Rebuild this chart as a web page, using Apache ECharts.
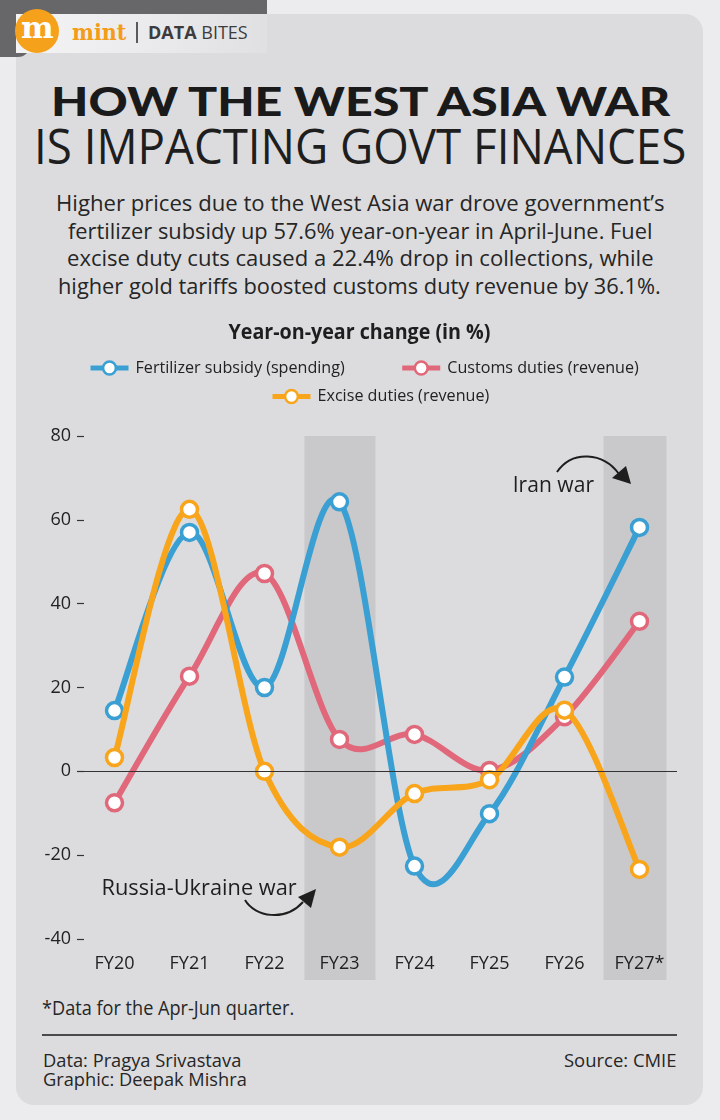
<!DOCTYPE html>
<html>
<head>
<meta charset="utf-8">
<script src="https://cdn.jsdelivr.net/npm/echarts@6/dist/echarts.min.js"></script>
<style>
html,body{margin:0;padding:0;}
body{width:720px;height:1120px;background:#ececee;position:relative;overflow:hidden;font-family:"Open Sans",sans-serif;color:#1e1e1e;}
.box{position:absolute;}
.t{position:absolute;white-space:nowrap;line-height:1;transform-origin:0 0;display:inline-block;}
#card{left:16px;top:14px;width:687px;height:1091px;background:#dcdcde;border-radius:18px;}
#tabTop{left:0;top:0;width:267px;height:14px;background:#67676a;}
#tabLeft{left:0;top:0;width:30px;height:57px;background:#67676a;border-bottom-right-radius:12px;}
#bar{left:16px;top:14px;width:251px;height:39px;background:linear-gradient(to right,#f4f4f5,#e9e9eb 60%,#e0e0e2);}
#logo{left:15px;top:9px;width:44px;height:44px;border-radius:50%;background:#f6a11b;}
#sep{left:136px;top:22px;width:1.5px;height:21px;background:#5a5a5c;}
#rule{left:42px;top:1034px;width:635px;height:1.5px;background:#4a4a4c;}
#chart{position:absolute;left:0;top:0;width:720px;height:1120px;}
</style>
</head>
<body>
<div id="card" class="box"></div>
<div id="tabTop" class="box"></div>
<div id="tabLeft" class="box"></div>
<div id="bar" class="box"></div>
<div id="logo" class="box"></div>
<div class="t" data-w="33" style="left:20.5px;top:13.8px;font-family:'DejaVu Serif',serif;font-weight:bold;font-size:29px;color:#fff;">m</div>
<div class="t" data-w="54" style="left:72px;top:19.5px;font-family:'DejaVu Serif',serif;font-weight:bold;font-size:23px;color:#f39c1a;">mint</div>
<div id="sep" class="box"></div>
<div class="t" style="left:148px;top:23px;font-size:18px;color:#3c3c3e;"><b>DATA</b> BITES</div>

<div class="t" data-w="619.5" style="left:50.5px;top:81.2px;font-family:Lato,'Open Sans',sans-serif;font-weight:900;font-size:40px;color:#1a1a1a;">HOW THE WEST ASIA WAR</div>
<div class="t" data-w="652.6" style="left:34.4px;top:120.5px;font-weight:400;font-size:49px;color:#1e1e1e;">IS IMPACTING GOVT FINANCES</div>

<div class="t" data-w="608.4" style="left:56px;top:191.2px;font-size:22px;color:#262626;">Higher prices due to the West Asia war drove government’s</div>
<div class="t" data-w="584.5" style="left:67.5px;top:218.7px;font-size:22px;color:#262626;">fertilizer subsidy up 57.6% year-on-year in April-June. Fuel</div>
<div class="t" data-w="586.4" style="left:66.6px;top:246.2px;font-size:22px;color:#262626;">excise duty cuts caused a 22.4% drop in collections, while</div>
<div class="t" data-w="602.7" style="left:58.3px;top:273.7px;font-size:22px;color:#262626;">higher gold tariffs boosted customs duty revenue by 36.1%.</div>

<div class="t" data-w="252" style="left:42.2px;top:998.2px;font-size:20px;color:#262626;">*Data for the Apr-Jun quarter.</div>
<div id="rule" class="box"></div>
<div class="t" data-w="198" style="left:43px;top:1050.7px;font-size:18px;color:#262626;">Data: Pragya Srivastava</div>
<div class="t" data-w="203.6" style="left:43px;top:1070px;font-size:18px;color:#262626;">Graphic: Deepak Mishra</div>
<div class="t" data-w="112.7" style="left:563.8px;top:1050.7px;font-size:18px;color:#262626;">Source: CMIE</div>

<div id="chart"></div>

<script>
// ---- data ----
const categories = ['FY20', 'FY21', 'FY22', 'FY23', 'FY24', 'FY25', 'FY26', 'FY27*'];
const fertilizerSubsidy = [14.5, 57.0, 20.0, 64.3, -22.6, -10.1, 22.5, 58.2];
const customsDuties = [-7.5, 22.7, 47.2, 7.6, 8.8, 0.2, 13.0, 35.8];
const exciseDuties = [3.3, 62.5, 0.0, -18.1, -5.3, -2.0, 14.6, -23.4];
const seriesNames = ['Fertilizer subsidy (spending)', 'Customs duties (revenue)', 'Excise duties (revenue)'];
const yMin = -40, yMax = 80, yStep = 20;
const shadedCategories = ['FY23', 'FY27*'];
const chartTitle = 'Year-on-year change (in %)';
const annotations = ['Iran war', 'Russia-Ukraine war'];

// ---- fit html text widths ----
document.querySelectorAll('[data-w]').forEach(el => {
  const w = el.offsetWidth;
  if (w > 0) el.style.transform = 'scaleX(' + (parseFloat(el.dataset.w) / w) + ')';
});

const FONT = '"Open Sans", sans-serif';
const mctx = document.createElement('canvas').getContext('2d');
function measure(text, font) { mctx.font = font; return mctx.measureText(text).width; }
function fitText(text, left, capCenter, targetW, fs, weight) {
  const font = weight + ' ' + fs + 'px "Open Sans"';
  const s = targetW / measure(text, font);
  return {
    type: 'text', x: left, y: capCenter + 0.07 * fs, scaleX: s, z: 100, silent: true,
    style: { text: text, font: font, fill: '#1e1e1e', align: 'left', verticalAlign: 'middle', textAlign: 'left', textVerticalAlign: 'middle' }
  };
}

const COLORS = { fert: '#3a9fd2', customs: '#e0687a', excise: '#f8a51b' };
const legendFs = 16 * 209.5 / measure(seriesNames[0], '16px "Open Sans"');

// Smooth curve (Catmull-Rom) through the data points, placed with the axes' own scales
function curveSeries(id, values, color, z) {
  return {
    id: id, type: 'custom', z: z, silent: true,
    data: values.map((v, i) => [i, v]),
    encode: { x: 0, y: 1 },
    renderItem: function (params, api) {
      const i = params.dataIndex, n = values.length;
      if (i >= n - 1) return null;
      const P = k => { const kk = Math.max(0, Math.min(n - 1, k)); return api.coord([kk, values[kk]]); };
      const p0 = P(i - 1), p1 = P(i), p2 = P(i + 1), p3 = P(i + 2);
      return {
        type: 'bezierCurve',
        shape: {
          x1: p1[0], y1: p1[1],
          cpx1: p1[0] + (p2[0] - p0[0]) / 6, cpy1: p1[1] + (p2[1] - p0[1]) / 6,
          cpx2: p2[0] - (p3[0] - p1[0]) / 6, cpy2: p2[1] - (p3[1] - p1[1]) / 6,
          x2: p2[0], y2: p2[1]
        },
        style: { stroke: color, lineWidth: 6, fill: null, lineCap: 'round' }
      };
    }
  };
}
function pointSeries(name, values, color, z) {
  return {
    name: name, type: 'line', data: values, z: z,
    symbol: 'circle', symbolSize: 16, showAllSymbol: true,
    lineStyle: { width: 6, color: color, opacity: 0 },
    itemStyle: { color: '#ffffff', borderColor: color, borderWidth: 3.5 },
    emphasis: { disabled: true }
  };
}

const chart = echarts.init(document.getElementById('chart'), null, { renderer: 'canvas' });
const legendCommon = {
  orient: 'horizontal', itemWidth: 38, itemHeight: 16, itemGap: 55, selectedMode: false,
  textStyle: { fontSize: legendFs, color: '#222', fontFamily: FONT, padding: [0, 0, 0, 2] },
  itemStyle: { borderWidth: 2.5 }, lineStyle: { width: 5, opacity: 1 }
};
chart.setOption({
  animation: false,
  backgroundColor: 'transparent',
  textStyle: { fontFamily: FONT },
  grid: { left: 77, right: 43, top: 436, bottom: 181, containLabel: false, outerBoundsMode: 'none' },
  legend: [
    Object.assign({ data: [seriesNames[0], seriesNames[1]], left: 83, top: 355 }, legendCommon),
    Object.assign({ data: [seriesNames[2]], left: 265, top: 383.5 }, legendCommon)
  ],
  xAxis: [{
    type: 'category', data: categories, boundaryGap: true,
    axisLine: { show: false }, axisTick: { show: false }, splitLine: { show: false },
    axisLabel: { fontSize: 18, color: '#222', margin: 16, fontFamily: FONT }
  }],
  yAxis: [{
    type: 'value', min: yMin, max: yMax, interval: yStep,
    axisLine: { show: false }, splitLine: { show: false },
    axisTick: { show: true, inside: true, length: 7, lineStyle: { color: '#333', width: 1.2 } },
    axisLabel: { fontSize: 18, color: '#222', margin: 6, fontFamily: FONT }
  }],
  series: [
    {
      name: 'zero', type: 'line', data: categories.map(() => null), z: 1, silent: true, symbol: 'none',
      markLine: { silent: true, symbol: 'none', label: { show: false }, animation: false,
        lineStyle: { color: '#333', width: 1.2, type: 'solid' }, data: [{ yAxis: 0 }] }
    },
    curveSeries('curve-customs', customsDuties, COLORS.customs, 2),
    pointSeries(seriesNames[1], customsDuties, COLORS.customs, 2.5),
    curveSeries('curve-fert', fertilizerSubsidy, COLORS.fert, 3),
    pointSeries(seriesNames[0], fertilizerSubsidy, COLORS.fert, 3.5),
    curveSeries('curve-excise', exciseDuties, COLORS.excise, 4),
    pointSeries(seriesNames[2], exciseDuties, COLORS.excise, 4.5)
  ]
});

// ---- shaded periods through the axis scales ----
const px = c => chart.convertToPixel({ xAxisIndex: 0 }, c);
const step = px(categories[1]) - px(categories[0]);
const yTop = chart.convertToPixel({ yAxisIndex: 0 }, yMax);
const yBottom = chart.convertToPixel({ yAxisIndex: 0 }, yMin) + 41;
const bandSpan = { 'FY23': [-0.467, 0.48], 'FY27*': [-0.48, 0.36] };
const bands = shadedCategories.map(c => {
  const cx = px(c), s = bandSpan[c];
  return { type: 'rect', z: 0, silent: true,
    shape: { x: cx + s[0] * step, y: yTop, width: (s[1] - s[0]) * step, height: yBottom - yTop },
    style: { fill: '#c9c9cb' } };
});

const arrowStyle = { stroke: '#1e1e1e', lineWidth: 2, fill: null };
chart.setOption({
  graphic: bands.concat([
    fitText(chartTitle, 228.5, 331.5, 262, 22, 'bold'),
    fitText(annotations[0], 512.7, 483.8, 81.3, 22, 'normal'),
    fitText(annotations[1], 101.5, 886.7, 195.2, 22, 'normal'),
    { type: 'bezierCurve', z: 100, silent: true,
      shape: { x1: 557, y1: 472, cpx1: 572, cpy1: 450, cpx2: 603, cpy2: 452, x2: 619, y2: 474 }, style: arrowStyle },
    { type: 'polygon', z: 100, silent: true,
      shape: { points: [[631, 484], [612, 478], [626, 466]] }, style: { fill: '#1e1e1e' } },
    { type: 'bezierCurve', z: 100, silent: true,
      shape: { x1: 245, y1: 900, cpx1: 255, cpy1: 917, cpx2: 285, cpy2: 922, x2: 303, y2: 902 }, style: arrowStyle },
    { type: 'polygon', z: 100, silent: true,
      shape: { points: [[316, 889], [298, 897], [311, 908]] }, style: { fill: '#1e1e1e' } }
  ])
});
</script>
</body>
</html>
